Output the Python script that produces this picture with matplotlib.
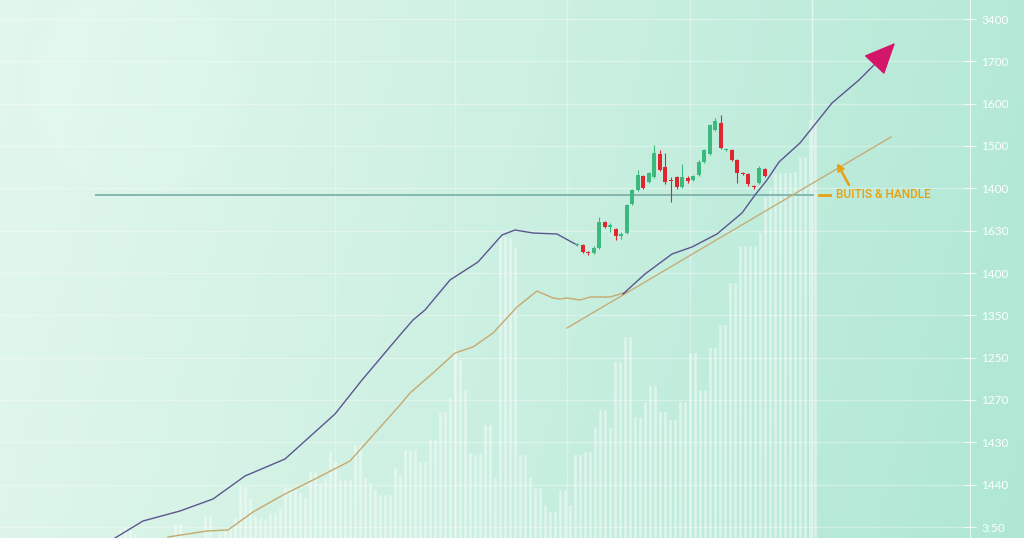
import numpy as np
import matplotlib
matplotlib.use("Agg")
import matplotlib.pyplot as plt

# time index t (sessions) and price levels
volume_t = np.arange(4, 144)
volume = [8, 10, 8, 4, 0, 0, 0, 0, 0, 0, 0, 14, 14, 0, 0, 0, 0, 21, 21, 0,
          5, 8, 10, 20, 51, 51, 40, 22, 20, 18, 25, 25, 30, 51, 51, 51, 45, 40, 66, 66,
          55, 60, 86, 76, 58, 58, 58, 93, 93, 60, 55, 48, 43, 43, 43, 70, 63, 88, 88, 88,
          76, 76, 98, 98, 126, 126, 140, 188, 178, 148, 85, 83, 85, 113, 113, 60, 301, 301, 300, 291,
          83, 83, 61, 50, 50, 33, 26, 26, 48, 48, 33, 83, 83, 86, 86, 111, 128, 128, 110, 176,
          176, 201, 201, 121, 121, 136, 152, 152, 126, 126, 118, 118, 136, 136, 185, 185, 148, 148, 190, 190,
          213, 213, 255, 255, 292, 292, 292, 292, 305, 341, 348, 365, 365, 365, 365, 366, 381, 381, 418, 418]

trend_t = [3.0, 8.6, 16.0, 22.6, 29.0, 37.0, 47.0, 52.4, 60.0, 62.6, 65.0, 70.0,
           75.6, 80.4, 83.0, 86.6, 91.4, 95.4]
trend_p = [1000, 1017, 1027, 1039, 1062, 1079, 1124, 1158, 1203, 1218, 1228, 1258,
           1276, 1303, 1308, 1305, 1304, 1293]

breakout_t = [104.6, 109.0, 114.4, 118.4, 123.4, 128.4, 131.0, 133.4, 135.8, 140.0,
              146.4, 151.8, 155.8, 159.0]
breakout_p = [1244, 1264, 1284, 1291, 1304, 1325, 1343, 1358, 1376, 1395,
              1435, 1458, 1478, 1495]

ma_t = [13.6, 21.4, 25.6, 30.6, 36.6, 42.6, 50.0, 60.0, 62.0, 66.6, 71.0, 74.6,
        78.6, 83.4, 87.4, 90.6, 92.0, 93.4, 96.0, 98.0, 102.0, 105.4]
ma_p = [1001, 1007, 1008, 1026, 1043, 1058, 1077, 1133, 1145, 1165, 1185, 1191,
        1205, 1231, 1247, 1240, 1239, 1240, 1238, 1241, 1241, 1246]

support_t = [93.4, 158.2]
support_p = [1210, 1401]

resistance = 1343

c_open = [1293, 1293, 1286, 1285, 1290, 1316, 1311, 1309, 1302, 1305, 1334, 1348,
          1362, 1356, 1361, 1384, 1371, 1358, 1361, 1351, 1360, 1358, 1363, 1376,
          1384, 1408, 1415, 1388, 1388, 1378, 1365, 1364, 1352, 1355, 1369]
c_close = [1294, 1286, 1285, 1290, 1316, 1311, 1313, 1302, 1304, 1333, 1348, 1363,
           1350, 1365, 1385, 1368, 1356, 1357, 1351, 1361, 1357, 1362, 1376, 1388,
           1413, 1417, 1390, 1389, 1378, 1365, 1364, 1354, 1351, 1370, 1362]
c_high = [1295, 1294, 1287, 1292, 1321, 1317, 1315, 1310, 1306, 1334, 1349, 1368,
          1363, 1366, 1393, 1388, 1385, 1361, 1362, 1374, 1362, 1363, 1378, 1389,
          1414, 1420, 1423, 1390, 1389, 1379, 1366, 1365, 1353, 1372, 1370]
c_low = [1292, 1285, 1283, 1284, 1289, 1310, 1306, 1298, 1299, 1304, 1333, 1347,
         1349, 1355, 1360, 1367, 1354, 1336, 1349, 1350, 1355, 1357, 1362, 1375,
         1383, 1407, 1389, 1387, 1377, 1355, 1363, 1352, 1349, 1354, 1361]
candle_t = np.linspace(95.4, 133.0, len(c_open))

tick_labels = ["3400", "1700", "1600", "1500", "1400", "1630", "1400", "1350",
               "1250", "1270", "1430", "1440", "3:50"]

fig = plt.figure(figsize=(10.24, 5.38), dpi=100)

# background gradient with a soft round glow top left
bg = fig.add_axes([0, 0, 1, 1])
bg.axis("off")
h, w = 538, 1024
yy, xx = np.mgrid[0:h, 0:w]
f = np.clip(xx / w * 0.9 + yy / h * 0.12, 0, 1) ** 1.1
c0 = np.array([0.890, 0.970, 0.925])
c1 = np.array([0.690, 0.906, 0.835])
img = c0 + (c1 - c0) * f[..., None]
d = np.sqrt((xx - 136) ** 2 + (yy - 88) ** 2)
glow = 1 / (1 + np.exp((d - 104) / 2.5))
img = np.clip(img + 0.007 * glow[..., None], 0, 1)
bg.imshow(img, aspect="auto", extent=[0, 1, 0, 1])

ax = fig.add_axes([0, 0, 970 / 1024, 1])
ax.set_facecolor("none")
ax.set_xlim(-20, 174)
ax.set_ylim(1000, 1538)
for s in ["top", "bottom", "left"]:
    ax.spines[s].set_visible(False)
ax.spines["right"].set_color((1, 1, 1, 0.7))
ax.yaxis.tick_right()
ax.set_yticks(np.linspace(1519, 1011, 13))
ax.set_yticklabels(tick_labels, family="Lato")
ax.tick_params(axis="y", colors=(1, 1, 1, 0.75), labelcolor="white", length=8,
               direction="inout", labelsize=8.5, pad=4)
ax.set_xticks([])
ax.grid(axis="y", color="white", alpha=0.35, lw=1)
ax.set_axisbelow(True)
for gx, ga in [(47, 0.3), (71, 0.3), (93.4, 0.35), (118, 0.35), (142.4, 0.6)]:
    ax.axvline(gx, color="white", alpha=ga, lw=1, zorder=0.5)

# volume
ax.bar(volume_t, volume, bottom=1000, width=0.55, color=(1, 1, 1, 0.45),
       edgecolor=(1, 1, 1, 0.3), lw=0.5, zorder=1)

ax.hlines(resistance, -1, 142.8, color="#78ada6", lw=1.2, zorder=2)

ax.plot(trend_t, trend_p, color="#5c5690", lw=1.0, zorder=3)
ax.plot(ma_t, ma_p, color="#c6a96e", lw=1.0, zorder=3)
ax.plot(support_t, support_p, color="#c6ad78", lw=1.0, zorder=3)
ax.plot(breakout_t[:-1], breakout_p[:-1], color="#5c5690", lw=1.0, zorder=3)
ax.annotate("", xy=(breakout_t[-1], breakout_p[-1]), xytext=(breakout_t[-2], breakout_p[-2]),
            arrowprops=dict(arrowstyle="-|>,head_length=1.0,head_width=0.45",
                            color="#d4166b", mutation_scale=20, shrinkA=0, shrinkB=0),
            zorder=5)

# candles
o = np.array(c_open)
c = np.array(c_close)
cols = np.where(c >= o, "#3cba7e", "#e0262f")
body = c - o
body = np.where(np.abs(body) < 1, np.where(body >= 0, 1, -1), body)
ax.vlines(candle_t, c_low, c_high, colors=cols, lw=0.8, zorder=4)
ax.bar(candle_t, body, bottom=o, width=0.8, color=cols, zorder=4)

# annotation
orange = "#e8a012"
ax.plot([143.8, 146.0], [resistance, resistance], color=orange, lw=2, zorder=5)
ax.text(147.2, resistance, "BUITIS & HANDLE", color=orange, fontsize=8.5,
        family="Roboto", fontweight="medium", va="center", zorder=5)
ax.annotate("", xy=(147.4, 1375), xytext=(149.8, 1353),
            arrowprops=dict(arrowstyle="->", color=orange, lw=1.8,
                            mutation_scale=10, shrinkA=0, shrinkB=0), zorder=5)

fig.savefig("out.png", dpi=100)
